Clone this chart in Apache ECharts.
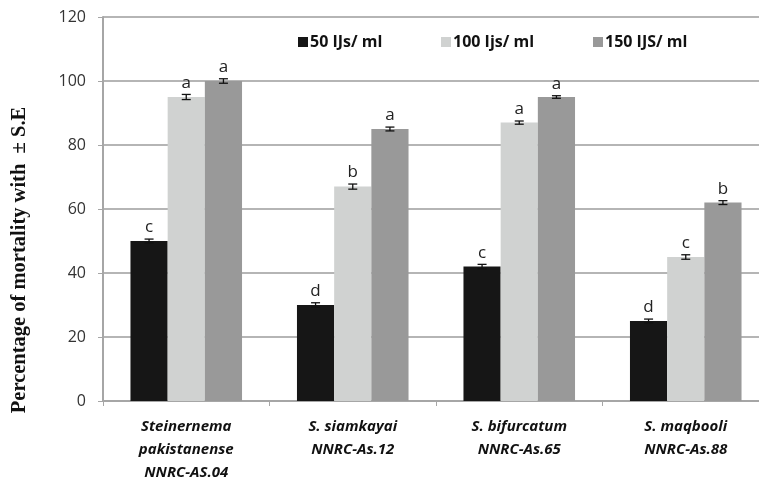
<!DOCTYPE html>
<html>
<head>
<meta charset="utf-8">
<script src="https://cdn.jsdelivr.net/npm/echarts@6/dist/echarts.min.js"></script>
<style>html,body{margin:0;padding:0;background:#fff}#chart{width:759px;height:480px}</style>
</head>
<body>
<div id="chart"></div>
<script>
const categories = ['Steinernema\npakistanense\nNNRC-AS.04', 'S. siamkayai\nNNRC-As.12', 'S. bifurcatum\nNNRC-As.65', 'S. maqbooli\nNNRC-As.88'];
const seriesNames = ['50 IJs/ ml', '100 Ijs/ ml', '150 IJS/ ml'];
const values50 = [50, 30, 42, 25];
const values100 = [95, 67, 87, 45];
const values150 = [100, 85, 95, 62];
const se50 = [0.6, 0.7, 0.7, 0.6];
const se100 = [0.8, 0.8, 0.5, 0.7];
const se150 = [0.7, 0.6, 0.4, 0.6];
const letters50 = ['c', 'd', 'c', 'd'];
const letters100 = ['a', 'b', 'a', 'c'];
const letters150 = ['a', 'a', 'a', 'b'];
const yTicks = [0, 20, 40, 60, 80, 100, 120];
const yTitle = 'Percentage of mortality with  \u00b1 S.E';

const colors = ['#161616', '#d0d2d1', '#999999'];
const allValues = [values50, values100, values150];
const allSe = [se50, se100, se150];
const allLetters = [letters50, letters100, letters150];
const CAT_GAP = 0.33;

const chart = echarts.init(document.getElementById('chart'), null, {renderer: 'canvas'});

function makeErr(k) {
  return {
    type: 'custom',
    z: 5,
    silent: true,
    data: categories.map((c, i) => [i, allValues[k][i], allSe[k][i]]),
    renderItem: function (params, api) {
      const idx = api.value(0), v = api.value(1), se = api.value(2);
      const letter = allLetters[k][idx];
      const center = api.coord([idx, v]);
      const catW = api.size([1, 0])[0];
      const barW = catW * (1 - CAT_GAP) / 3;
      const x = center[0] + (k - 1) * barW;
      const top = api.coord([idx, v + se])[1];
      const bot = api.coord([idx, v - se])[1];
      const cap = 4.5;
      const st = {stroke: '#111', lineWidth: 1.3};
      return {
        type: 'group',
        children: [
          {type: 'line', shape: {x1: x, y1: top, x2: x, y2: bot}, style: st},
          {type: 'line', shape: {x1: x - cap, y1: top, x2: x + cap, y2: top}, style: st},
          {type: 'line', shape: {x1: x - cap, y1: bot, x2: x + cap, y2: bot}, style: st},
          {type: 'text', style: {text: letter, x: x, y: top - 3, align: 'center', verticalAlign: 'bottom',
            font: '17px "Open Sans"', fill: '#222'}}
        ]
      };
    }
  };
}

const barSeries = seriesNames.map((n, k) => ({
  name: n,
  type: 'bar',
  data: allValues[k],
  barGap: '0%',
  barCategoryGap: (CAT_GAP * 100) + '%',
  itemStyle: {color: colors[k]},
  z: 2
}));

const legendLefts = [293, 436, 588];
const legends = seriesNames.map((n, k) => ({
  data: [n],
  left: legendLefts[k],
  top: 29,
  itemWidth: 10,
  itemHeight: 10,
  itemGap: 0,
  icon: 'rect',
  textStyle: {fontFamily: 'Open Sans', fontWeight: 'bold', fontSize: 16, color: '#111', padding: [0, 0, 0, -3]},
  selectedMode: false
}));

chart.setOption({
  animation: false,
  backgroundColor: '#fff',
  legend: legends,
  grid: {left: 103, top: 17, width: 666, bottom: 79, containLabel: false, outerBoundsMode: 'none'},
  graphic: [{
    type: 'text',
    x: 20,
    y: 260,
    rotation: Math.PI / 2,
    style: {text: yTitle, align: 'center', verticalAlign: 'middle',
      font: 'bold 20.5px "Liberation Serif"', fill: '#111'}
  }],
  xAxis: {
    type: 'category',
    data: categories,
    axisLine: {lineStyle: {color: '#a6a6a6', width: 2}},
    axisTick: {show: true, length: 5, lineStyle: {color: '#a6a6a6', width: 1}},
    axisLabel: {
      interval: 0,
      margin: 14,
      fontFamily: 'Open Sans',
      fontWeight: 'bold',
      fontStyle: 'italic',
      fontSize: 15,
      lineHeight: 23,
      color: '#111'
    }
  },
  yAxis: {
    type: 'value',
    min: yTicks[0],
    max: yTicks[yTicks.length - 1],
    interval: yTicks[1] - yTicks[0],
    axisLine: {show: true, lineStyle: {color: '#a6a6a6', width: 2}},
    axisTick: {show: true, length: 5, lineStyle: {color: '#a6a6a6', width: 1}},
    axisLabel: {margin: 17, fontFamily: 'Open Sans', fontSize: 16, color: '#333'},
    splitLine: {lineStyle: {color: '#b5b5b5', width: 2}}
  },
  series: barSeries.concat([makeErr(0), makeErr(1), makeErr(2)])
});
</script>
</body>
</html>
